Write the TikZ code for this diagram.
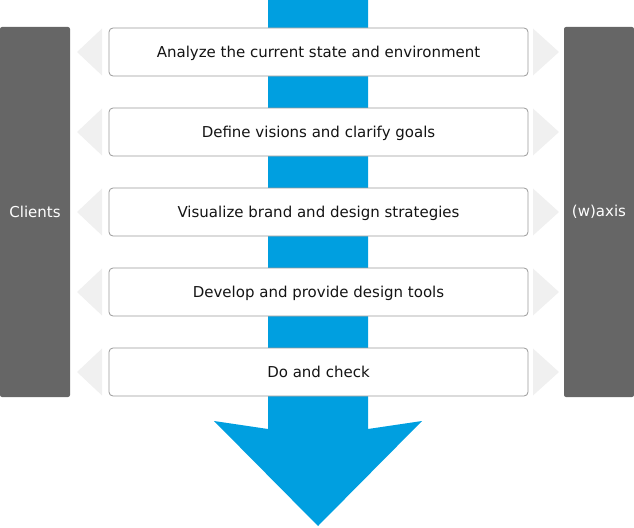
\documentclass[tikz,border=0pt]{standalone}
\usepackage{fontspec}
\setmainfont{DejaVu Sans}
\definecolor{arrowblue}{RGB}{0,159,224}
\definecolor{bargray}{RGB}{102,102,102}
\definecolor{trigray}{RGB}{240,240,240}
\definecolor{boxline}{RGB}{153,153,153}
\definecolor{txt}{RGB}{20,20,20}
\tikzset{
  stepbox/.style={draw=boxline, line width=0.8pt, fill=white, rounded corners=4pt,
    minimum width=419pt, minimum height=48pt, inner sep=0pt, text height=13pt, text depth=2pt,
    font=\fontsize{15pt}{17pt}\selectfont, text=txt},
  sidebar/.style={fill=bargray, rounded corners=2pt, minimum width=70pt, minimum height=370pt,
    inner sep=0pt, text=white, font=\fontsize{15pt}{17pt}\selectfont},
  tri/.style={fill=trigray, draw=none}
}
\begin{document}
\begin{tikzpicture}[x=1pt,y=-1pt]
\useasboundingbox (0,0) rectangle (634,527);
% blue arrow
\fill[arrowblue] (268,0) -- (368,0) -- (368,429) -- (422,421) -- (318,526) -- (214,421) -- (268,429) -- cycle;
% side bars
\node[sidebar] (clients) at (35,212) {Clients};
\node[sidebar] (waxis) at (599,212) {(w)axis};
% boxes and triangles
\foreach \i/\t in {0/{Analyze the current state and environment},1/{Define visions and clarify goals},2/{Visualize brand and design strategies},3/{Develop and provide design tools},4/{Do and check}}{
  \pgfmathsetmacro{\yc}{52+80*\i}
  \fill[tri] (77,\yc) -- (102,\yc-23.5) -- (102,\yc+23.5) -- cycle;
  \fill[tri] (559,\yc) -- (533,\yc-23.5) -- (533,\yc+23.5) -- cycle;
  \node[stepbox] (s\i) at (318.5,\yc) {\t};
}
\end{tikzpicture}
\end{document}
